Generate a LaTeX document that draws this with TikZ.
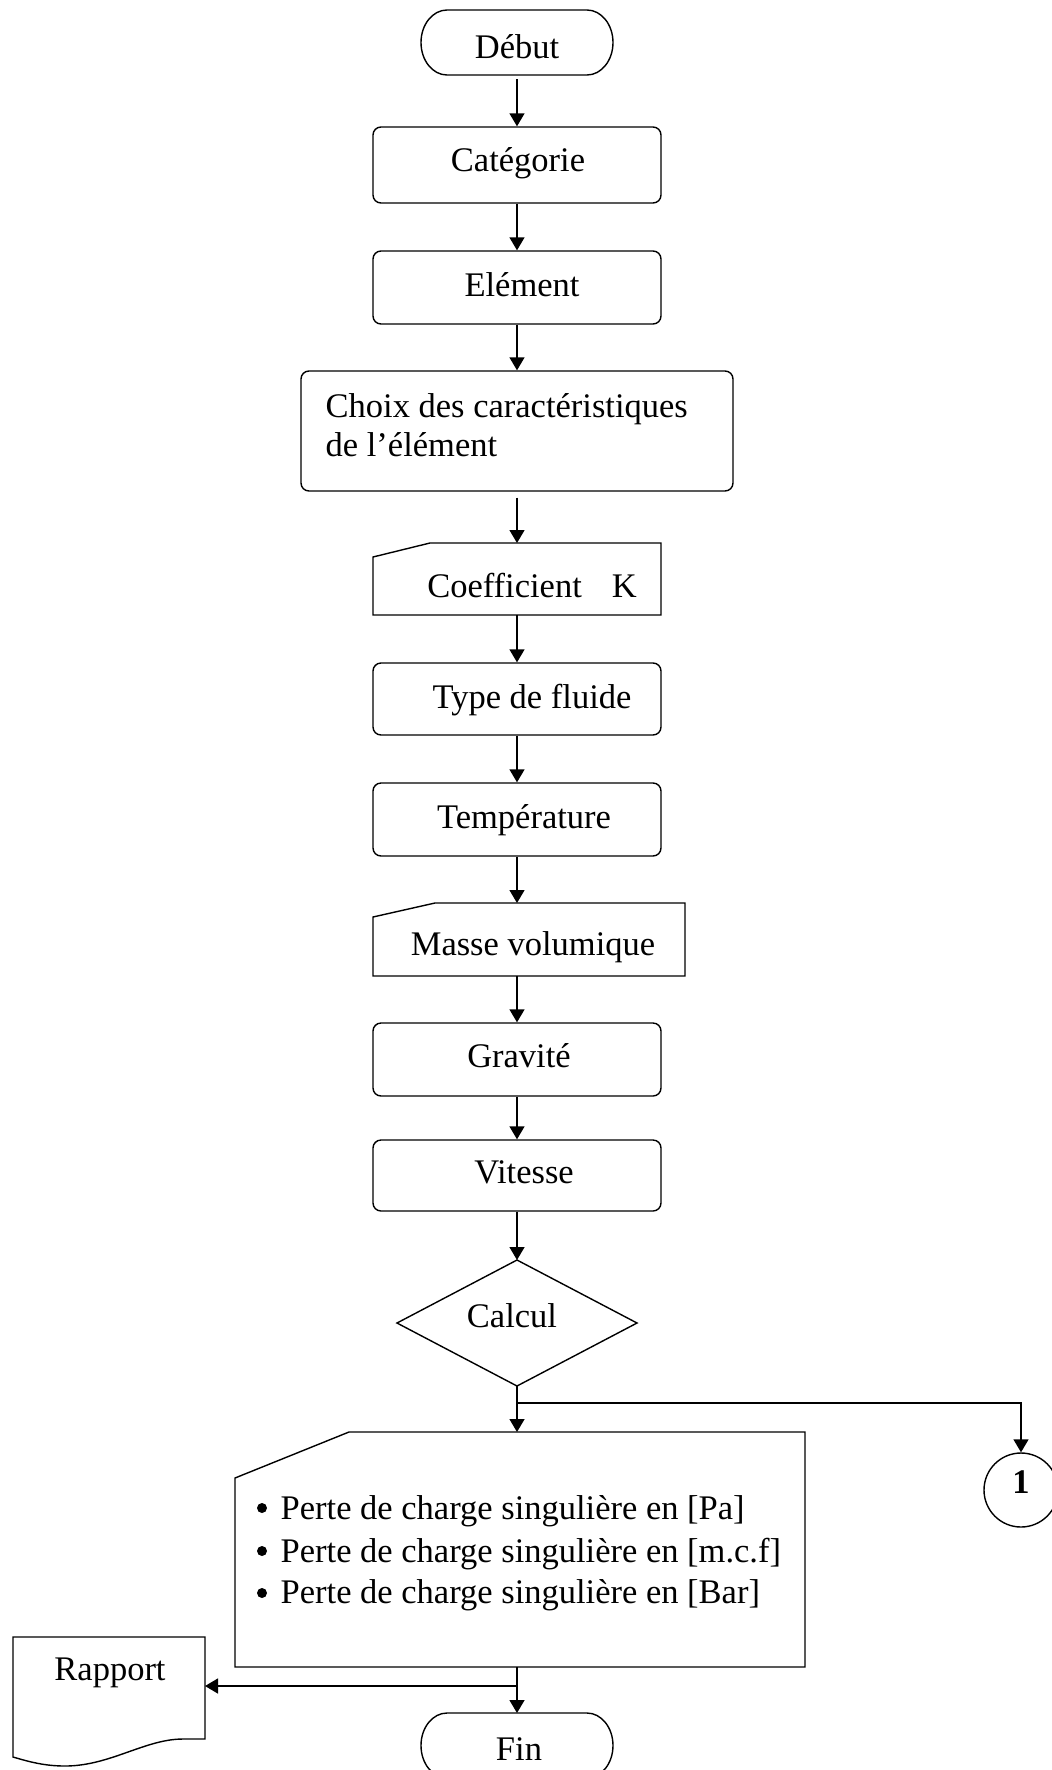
\documentclass[tikz,border=0pt]{standalone}
\usepackage{fontspec}
\setmainfont{Liberation Serif}
\usetikzlibrary{arrows.meta}
\begin{document}
\begin{tikzpicture}[x=1pt,y=-1pt,line width=1.4pt,
  arr/.style={-{Triangle[length=13pt,width=15pt]}},
  rbox/.style={draw, rounded corners=8pt, inner sep=0pt},
  abox/.style={inner sep=0pt, outer sep=0pt},
  txt/.style={font=\fontsize{34.5pt}{39pt}\selectfont, inner sep=0pt, anchor=base}]
\useasboundingbox (0,0) rectangle (1052,1770);

% ---------- shapes ----------
\node[abox, minimum width=192pt, minimum height=65pt] (debut) at (517,42.5) {};
\draw ([xshift=26pt]debut.north west) -- ([xshift=-26pt]debut.north east)
  arc[start angle=90,end angle=-90,x radius=26pt,y radius=32.5pt]
  -- ([xshift=26pt]debut.south west)
  arc[start angle=270,end angle=90,x radius=26pt,y radius=32.5pt] -- cycle;

\node[rbox, minimum width=288pt, minimum height=76pt] (cat) at (517,165) {};
\node[rbox, minimum width=288pt, minimum height=73pt] (elem) at (517,287.5) {};
\node[rbox, minimum width=432pt, minimum height=120pt] (choix) at (517,431) {};

\node[abox, minimum width=288pt, minimum height=72pt] (coef) at (517,579) {};
\draw (coef.south west) -- ([yshift=-14pt]coef.north west) -- ([xshift=57pt]coef.north west)
  -- (coef.north east) -- (coef.south east) -- cycle;

\node[rbox, minimum width=288pt, minimum height=72pt] (fluide) at (517,699) {};
\node[rbox, minimum width=288pt, minimum height=73pt] (temp) at (517,819.5) {};

\node[abox, minimum width=312pt, minimum height=73pt] (masse) at (529,939.5) {};
\draw (masse.south west) -- ([yshift=-14pt]masse.north west) -- ([xshift=62pt]masse.north west)
  -- (masse.north east) -- (masse.south east) -- cycle;

\node[rbox, minimum width=288pt, minimum height=73pt] (grav) at (517,1059.5) {};
\node[rbox, minimum width=288pt, minimum height=71pt] (vit) at (517,1175.5) {};

\node[abox, minimum width=240pt, minimum height=126pt] (calc) at (517,1323) {};
\draw (calc.north) -- (calc.east) -- (calc.south) -- (calc.west) -- cycle;

\node[abox, minimum width=570pt, minimum height=235pt] (out) at (520,1549.5) {};
\draw (out.south west) -- ([yshift=-46pt]out.north west) -- ([xshift=114pt]out.north west)
  -- (out.north east) -- (out.south east) -- cycle;

\node[draw, circle, minimum size=74pt, inner sep=0pt,
  font=\fontsize{34.5pt}{39pt}\selectfont\bfseries, text height=0.68em, text depth=0pt]
  (one) at (1021,1490) {1};

\node[abox, minimum width=192pt, minimum height=102pt] (rap) at (109,1688) {};
\draw (rap.south east) -- (rap.north east) -- (rap.north west) -- (13,1757)
  .. controls (30,1762) and (45,1766) .. (65,1766)
  .. controls (110,1766) and (145,1739) .. (183,1739) -- cycle;

\node[abox, minimum width=192pt, minimum height=65pt] (fin) at (517,1745.5) {};
\draw ([xshift=26pt]fin.north west) -- ([xshift=-26pt]fin.north east)
  arc[start angle=90,end angle=-90,x radius=26pt,y radius=32.5pt]
  -- ([xshift=26pt]fin.south west)
  arc[start angle=270,end angle=90,x radius=26pt,y radius=32.5pt] -- cycle;

% ---------- texts ----------
\node[txt] at (517,58.5) {Début};
\node[txt] at (518,171) {Catégorie};
\node[txt] at (522,296) {Elément};
\node[txt, anchor=base west] at (325,417) {Choix des caractéristiques};
\node[txt, anchor=base west] at (325,456) {de l’élément};
\node[txt] at (532,597) {Coefficient\hspace{30pt}K};
\node[txt] at (532,708) {Type de fluide};
\node[txt] at (524,828) {Température};
\node[txt] at (533,955) {Masse volumique};
\node[txt] at (519,1067) {Gravité};
\node[txt] at (524,1183) {Vitesse};
\node[txt] at (512,1327) {Calcul};
\fill (262,1508) circle[radius=5pt];
\fill (262,1551) circle[radius=5pt];
\fill (262,1593) circle[radius=5pt];
\node[txt, anchor=base west] at (280,1519) {Perte de charge singulière en [Pa]};
\node[txt, anchor=base west] at (280,1562) {Perte de charge singulière en [m.c.f]};
\node[txt, anchor=base west] at (280,1603) {Perte de charge singulière en [Bar]};
\node[txt] at (110,1680) {Rapport};
\node[txt] at (519,1760) {Fin};

% ---------- connectors ----------
\draw[arr, shorten <=4pt] (debut.south) -- (cat.north);
\draw[arr] (cat.south) -- (elem.north);
\draw[arr] (elem.south) -- (choix.north);
\draw[arr, shorten <=6pt] (choix.south) -- (coef.north);
\draw[arr] (coef.south) -- (fluide.north);
\draw[arr] (fluide.south) -- (temp.north);
\draw[arr] (temp.south) -- (temp.south |- masse.north);
\draw[arr] (grav.north |- masse.south) -- (grav.north);
\draw[arr] (grav.south) -- (vit.north);
\draw[arr] (vit.south) -- (calc.north);
\draw[arr] (calc.south) -- (calc.south |- out.north);
\coordinate (j1) at (517,1403);
\draw[arr] (j1) -| (one.north);
\draw[arr] (fin.north |- out.south) -- (fin.north);
\coordinate (j2) at (517,1686);
\draw[arr] (j2) -- (j2 -| rap.east);
\end{tikzpicture}
\end{document}
